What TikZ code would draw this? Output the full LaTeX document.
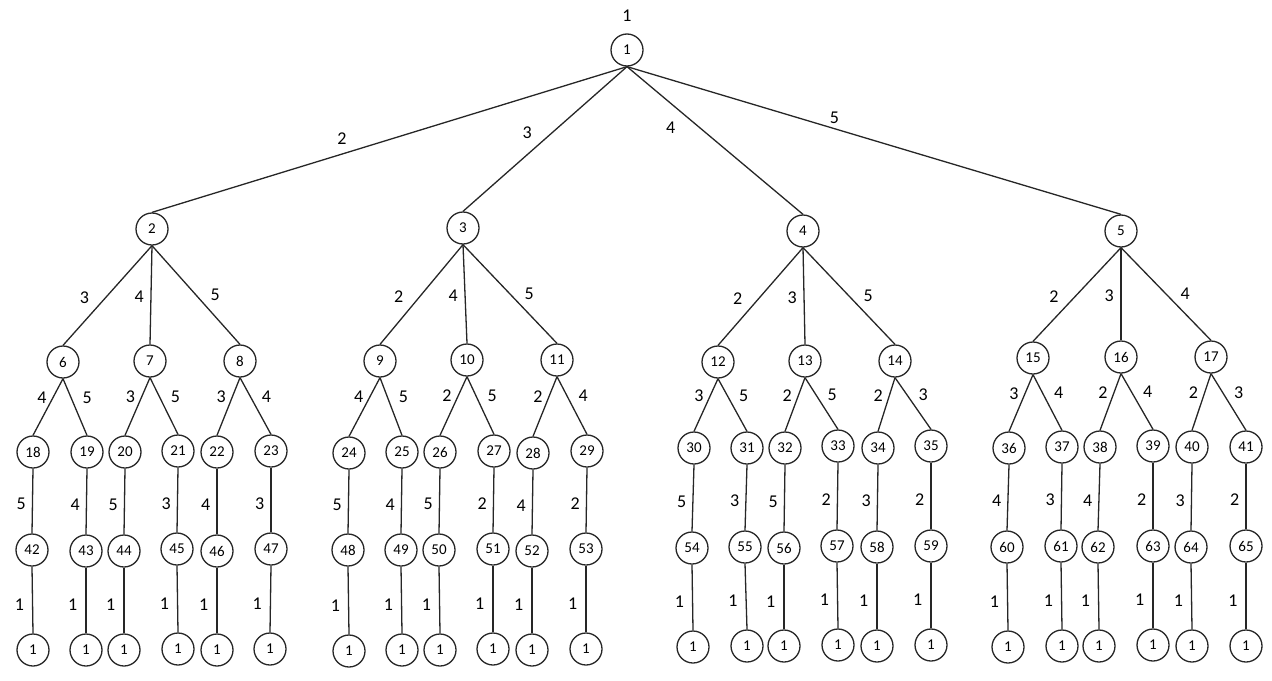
\documentclass[tikz,border=0pt]{standalone}
\usepackage{fontspec}
\setmainfont{Carlito}
\usetikzlibrary{positioning}
\tikzset{
  vnode/.style={circle,draw=black!85,line width=0.65pt,minimum size=16pt,inner sep=0pt,font=\fontsize{7.5}{8}\selectfont},
  tedge/.style={draw=black!85,line width=0.65pt},
  wlbl/.style={font=\fontsize{9}{10}\selectfont,inner sep=3pt},
  oneL/.style={wlbl,pos=0.52,left=5pt},
  oneM/.style={wlbl,pos=0.52,left=0.3pt},
  oneR/.style={wlbl,pos=0.5,right=4pt},
  twoL/.style={wlbl,pos=0.33,left},
  twoR/.style={wlbl,pos=0.33,right=2.5pt},
  vlbl/.style={wlbl,pos=0.55,left},
  leaflbl/.style={wlbl,pos=0.57,left=1pt},
}
\begin{document}
\begin{tikzpicture}[x=0.5pt,y=-0.5pt]
  \useasboundingbox (0,0) rectangle (1272,680);
  % root and first level
  \node[vnode,label={[wlbl,label distance=2.5pt]above:1}] (n1) at (627,50) {1};
  \node[vnode] (n2) at (152,229) {2};
  \node[vnode] (n3) at (463,228) {3};
  \node[vnode] (n4) at (803,231) {4};
  \node[vnode] (n5) at (1121,231) {5};
  \draw[tedge] (n1.south) -- node[wlbl,pos=0.6,above=1.5pt] {2} (n2.north);
  \draw[tedge] (n1.south) -- node[wlbl,pos=0.54,above left] {3} (n3.north);
  \draw[tedge] (n1.south) -- node[wlbl,pos=0.32,below left=1pt] {4} (n4.north);
  \draw[tedge] (n1.south) -- node[wlbl,pos=0.42,above=-1pt] {5} (n5.north);
  % second level
  \node[vnode] (n6) at (63,362) {6};
  \node[vnode] (n7) at (150,361) {7};
  \node[vnode] (n8) at (240,361) {8};
  \node[vnode] (n9) at (380,361) {9};
  \node[vnode] (n10) at (467,360) {10};
  \node[vnode] (n11) at (557,360) {11};
  \node[vnode] (n12) at (718,362) {12};
  \node[vnode] (n13) at (805,361) {13};
  \node[vnode] (n14) at (895,361) {14};
  \node[vnode] (n15) at (1033,358) {15};
  \node[vnode] (n16) at (1121,357) {16};
  \node[vnode] (n17) at (1211,357) {17};
  \draw[tedge] (n2.south) -- node[oneL] {3} (n6.north);
  \draw[tedge] (n2.south) -- node[oneM] {4} (n7.north);
  \draw[tedge] (n2.south) -- node[oneR] {5} (n8.north);
  \draw[tedge] (n3.south) -- node[oneL] {2} (n9.north);
  \draw[tedge] (n3.south) -- node[oneM] {4} (n10.north);
  \draw[tedge] (n3.south) -- node[oneR] {5} (n11.north);
  \draw[tedge] (n4.south) -- node[oneL] {2} (n12.north);
  \draw[tedge] (n4.south) -- node[oneM] {3} (n13.north);
  \draw[tedge] (n4.south) -- node[oneR] {5} (n14.north);
  \draw[tedge] (n5.south) -- node[oneL] {2} (n15.north);
  \draw[tedge] (n5.south) -- node[oneM] {3} (n16.north);
  \draw[tedge] (n5.south) -- node[oneR] {4} (n17.north);
  % third level
  \node[vnode] (n18) at (33,452) {18};
  \node[vnode] (n19) at (87,452) {19};
  \node[vnode] (n20) at (125,452) {20};
  \node[vnode] (n21) at (178,451) {21};
  \node[vnode] (n22) at (217,452) {22};
  \node[vnode] (n23) at (271,451) {23};
  \node[vnode] (n24) at (349,453) {24};
  \node[vnode] (n25) at (402,452) {25};
  \node[vnode] (n26) at (440,452) {26};
  \node[vnode] (n27) at (494,451) {27};
  \node[vnode] (n28) at (533,453) {28};
  \node[vnode] (n29) at (587,451) {29};
  \node[vnode] (n30) at (694,448) {30};
  \node[vnode] (n31) at (747,448) {31};
  \node[vnode] (n32) at (785,448) {32};
  \node[vnode] (n33) at (838,446) {33};
  \node[vnode] (n34) at (878,448) {34};
  \node[vnode] (n35) at (931,446) {35};
  \node[vnode] (n36) at (1009,448) {36};
  \node[vnode] (n37) at (1062,447) {37};
  \node[vnode] (n38) at (1100,447) {38};
  \node[vnode] (n39) at (1153,446) {39};
  \node[vnode] (n40) at (1192,447) {40};
  \node[vnode] (n41) at (1246,447) {41};
  \draw[tedge] (n6.south) -- node[twoL] {4} (n18.north);
  \draw[tedge] (n6.south) -- node[twoR] {5} (n19.north);
  \draw[tedge] (n7.south) -- node[twoL] {3} (n20.north);
  \draw[tedge] (n7.south) -- node[twoR] {5} (n21.north);
  \draw[tedge] (n8.south) -- node[twoL] {3} (n22.north);
  \draw[tedge] (n8.south) -- node[twoR] {4} (n23.north);
  \draw[tedge] (n9.south) -- node[twoL] {4} (n24.north);
  \draw[tedge] (n9.south) -- node[twoR] {5} (n25.north);
  \draw[tedge] (n10.south) -- node[twoL] {2} (n26.north);
  \draw[tedge] (n10.south) -- node[twoR] {5} (n27.north);
  \draw[tedge] (n11.south) -- node[twoL] {2} (n28.north);
  \draw[tedge] (n11.south) -- node[twoR] {4} (n29.north);
  \draw[tedge] (n12.south) -- node[twoL] {3} (n30.north);
  \draw[tedge] (n12.south) -- node[twoR] {5} (n31.north);
  \draw[tedge] (n13.south) -- node[twoL] {2} (n32.north);
  \draw[tedge] (n13.south) -- node[twoR] {5} (n33.north);
  \draw[tedge] (n14.south) -- node[twoL] {2} (n34.north);
  \draw[tedge] (n14.south) -- node[twoR] {3} (n35.north);
  \draw[tedge] (n15.south) -- node[twoL] {3} (n36.north);
  \draw[tedge] (n15.south) -- node[twoR] {4} (n37.north);
  \draw[tedge] (n16.south) -- node[twoL] {2} (n38.north);
  \draw[tedge] (n16.south) -- node[twoR] {4} (n39.north);
  \draw[tedge] (n17.south) -- node[twoL] {2} (n40.north);
  \draw[tedge] (n17.south) -- node[twoR] {3} (n41.north);
  % fourth level
  \node[vnode] (n42) at (32,550) {42};
  \node[vnode] (n43) at (86,551) {43};
  \node[vnode] (n44) at (124,551) {44};
  \node[vnode] (n45) at (177,549) {45};
  \node[vnode] (n46) at (217,551) {46};
  \node[vnode] (n47) at (271,549) {47};
  \node[vnode] (n48) at (348,550) {48};
  \node[vnode] (n49) at (401,550) {49};
  \node[vnode] (n50) at (439,550) {50};
  \node[vnode] (n51) at (493,549) {51};
  \node[vnode] (n52) at (532,551) {52};
  \node[vnode] (n53) at (586,549) {53};
  \node[vnode] (n54) at (692,548) {54};
  \node[vnode] (n55) at (745,547) {55};
  \node[vnode] (n56) at (784,548) {56};
  \node[vnode] (n57) at (837,546) {57};
  \node[vnode] (n58) at (877,547) {58};
  \node[vnode] (n59) at (931,546) {59};
  \node[vnode] (n60) at (1007,547) {60};
  \node[vnode] (n61) at (1061,546) {61};
  \node[vnode] (n62) at (1098,547) {62};
  \node[vnode] (n63) at (1153,546) {63};
  \node[vnode] (n64) at (1191,547) {64};
  \node[vnode] (n65) at (1246,546) {65};
  \draw[tedge] (n18.south) -- node[vlbl] {5} (n42.north);
  \draw[tedge] (n19.south) -- node[vlbl] {4} (n43.north);
  \draw[tedge] (n20.south) -- node[vlbl] {5} (n44.north);
  \draw[tedge] (n21.south) -- node[vlbl] {3} (n45.north);
  \draw[tedge] (n22.south) -- node[vlbl] {4} (n46.north);
  \draw[tedge] (n23.south) -- node[vlbl] {3} (n47.north);
  \draw[tedge] (n24.south) -- node[vlbl] {5} (n48.north);
  \draw[tedge] (n25.south) -- node[vlbl] {4} (n49.north);
  \draw[tedge] (n26.south) -- node[vlbl] {5} (n50.north);
  \draw[tedge] (n27.south) -- node[vlbl] {2} (n51.north);
  \draw[tedge] (n28.south) -- node[vlbl] {4} (n52.north);
  \draw[tedge] (n29.south) -- node[vlbl] {2} (n53.north);
  \draw[tedge] (n30.south) -- node[vlbl] {5} (n54.north);
  \draw[tedge] (n31.south) -- node[vlbl] {3} (n55.north);
  \draw[tedge] (n32.south) -- node[vlbl] {5} (n56.north);
  \draw[tedge] (n33.south) -- node[vlbl] {2} (n57.north);
  \draw[tedge] (n34.south) -- node[vlbl] {3} (n58.north);
  \draw[tedge] (n35.south) -- node[vlbl] {2} (n59.north);
  \draw[tedge] (n36.south) -- node[vlbl] {4} (n60.north);
  \draw[tedge] (n37.south) -- node[vlbl] {3} (n61.north);
  \draw[tedge] (n38.south) -- node[vlbl] {4} (n62.north);
  \draw[tedge] (n39.south) -- node[vlbl] {2} (n63.north);
  \draw[tedge] (n40.south) -- node[vlbl] {3} (n64.north);
  \draw[tedge] (n41.south) -- node[vlbl] {2} (n65.north);
  % leaves back to 1
  \node[vnode] (f42) at (33,650) {1};
  \node[vnode] (f43) at (86,650) {1};
  \node[vnode] (f44) at (124,650) {1};
  \node[vnode] (f45) at (178,649) {1};
  \node[vnode] (f46) at (217,650) {1};
  \node[vnode] (f47) at (270,649) {1};
  \node[vnode] (f48) at (349,651) {1};
  \node[vnode] (f49) at (402,650) {1};
  \node[vnode] (f50) at (440,650) {1};
  \node[vnode] (f51) at (493,649) {1};
  \node[vnode] (f52) at (532,650) {1};
  \node[vnode] (f53) at (586,649) {1};
  \node[vnode] (f54) at (693,647) {1};
  \node[vnode] (f55) at (747,646) {1};
  \node[vnode] (f56) at (784,646) {1};
  \node[vnode] (f57) at (838,645) {1};
  \node[vnode] (f58) at (877,646) {1};
  \node[vnode] (f59) at (931,645) {1};
  \node[vnode] (f60) at (1008,647) {1};
  \node[vnode] (f61) at (1062,646) {1};
  \node[vnode] (f62) at (1099,646) {1};
  \node[vnode] (f63) at (1153,645) {1};
  \node[vnode] (f64) at (1192,646) {1};
  \node[vnode] (f65) at (1246,646) {1};
  \draw[tedge] (n42.south) -- node[leaflbl] {1} (f42.north);
  \draw[tedge] (n43.south) -- node[leaflbl] {1} (f43.north);
  \draw[tedge] (n44.south) -- node[leaflbl] {1} (f44.north);
  \draw[tedge] (n45.south) -- node[leaflbl] {1} (f45.north);
  \draw[tedge] (n46.south) -- node[leaflbl] {1} (f46.north);
  \draw[tedge] (n47.south) -- node[leaflbl] {1} (f47.north);
  \draw[tedge] (n48.south) -- node[leaflbl] {1} (f48.north);
  \draw[tedge] (n49.south) -- node[leaflbl] {1} (f49.north);
  \draw[tedge] (n50.south) -- node[leaflbl] {1} (f50.north);
  \draw[tedge] (n51.south) -- node[leaflbl] {1} (f51.north);
  \draw[tedge] (n52.south) -- node[leaflbl] {1} (f52.north);
  \draw[tedge] (n53.south) -- node[leaflbl] {1} (f53.north);
  \draw[tedge] (n54.south) -- node[leaflbl] {1} (f54.north);
  \draw[tedge] (n55.south) -- node[leaflbl] {1} (f55.north);
  \draw[tedge] (n56.south) -- node[leaflbl] {1} (f56.north);
  \draw[tedge] (n57.south) -- node[leaflbl] {1} (f57.north);
  \draw[tedge] (n58.south) -- node[leaflbl] {1} (f58.north);
  \draw[tedge] (n59.south) -- node[leaflbl] {1} (f59.north);
  \draw[tedge] (n60.south) -- node[leaflbl] {1} (f60.north);
  \draw[tedge] (n61.south) -- node[leaflbl] {1} (f61.north);
  \draw[tedge] (n62.south) -- node[leaflbl] {1} (f62.north);
  \draw[tedge] (n63.south) -- node[leaflbl] {1} (f63.north);
  \draw[tedge] (n64.south) -- node[leaflbl] {1} (f64.north);
  \draw[tedge] (n65.south) -- node[leaflbl] {1} (f65.north);
\end{tikzpicture}
\end{document}
